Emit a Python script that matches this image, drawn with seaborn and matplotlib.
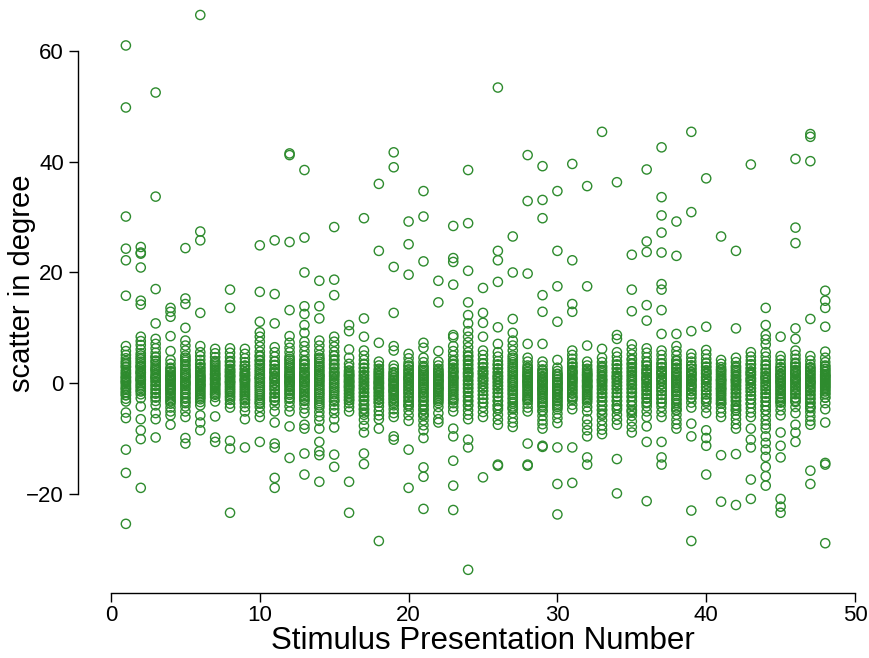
import matplotlib
matplotlib.use("Agg")
import matplotlib.pyplot as plt
import seaborn as sns
import pandas as pd

# Stimulus presentation numbers (x categories)
stimulus_numbers = list(range(1, 49))

# Values far from the dense central band, read per stimulus
outlier_values = [
    [61.0, 49.8, 30.1, 24.3, 22.2, 15.8, -5.3, -6.3, -12.0, -16.2, -25.4],
    [24.6, 23.6, 23.4, 20.9, 14.9, 14.2, -4.2, -6.5, -8.5, -10.1, -18.9],
    [52.5, 33.7, 17.0, 10.8, -5.4, -6.5, -9.8],
    [13.6, 12.9, 12.0, 8.5, 5.8, -7.5],
    [24.4, 15.3, 14.3, 10.0, -9.9, -10.9],
    [66.5, 27.4, 25.8, 12.7, 6.7, -5.8, -7.1, -8.5],
    [-6.0, -9.8, -10.6],
    [16.9, 13.6, -10.4, -11.8, -23.4],
    [6.2, -6.5, -11.6],
    [24.9, 16.5, 11.1, 9.2, -10.6],
    [25.8, 16.1, 10.8, -7.1, -10.9, -11.6, -17.1, -18.9],
    [41.5, 41.2, 25.5, 13.2, 8.5, -7.8, -13.5],
    [38.5, 26.3, 20.0, 13.9, 12.5, 10.5, 9.1, 7.5, -7.5, -8.2, -12.7, -16.5],
    [18.5, 13.9, 11.7, -8.2, -10.6, -12.3, -13.0, -17.8],
    [28.2, 18.7, 15.9, -6.5, -8.0, -12.9, -15.1],
    [10.5, 9.4, 6.1, 4.6, -17.8, -23.4],
    [29.8, 11.7, 8.4, -12.7, -14.6],
    [36.0, 23.9, 7.3, -6.5, -8.2, -28.5],
    [41.7, 39.0, 21.0, 12.7, 6.7, 5.9, -9.6, -10.2],
    [29.2, 25.1, 19.6, -12.0, -18.9],
    [34.7, 30.1, 22.0, 7.3, 6.4, -15.2, -16.9, -22.7],
    [18.5, 14.6, 5.8, -6.5, -7.1],
    [28.4, 22.6, 21.9, 17.8, 8.7, 8.3, -8.2, -9.6, -14.0, -18.5, -22.9],
    [38.5, 28.9, 20.3, 14.6, 12.3, 10.8, 9.4, -10.2, -11.6, -33.7],
    [17.2, 12.7, 10.9, 8.4, -17.0],
    [53.4, 23.9, 22.2, 18.3, 10.1, 7.1, -14.7, -14.9],
    [26.5, 20.0, 11.6, 9.1],
    [41.2, 32.9, 19.8, 7.1, -10.9, -14.7, -14.9],
    [39.2, 33.1, 29.8, 15.9, 12.9, 7.1, -11.3, -11.5],
    [34.7, 23.9, 17.5, 11.1, 4.2, -11.6, -18.2, -23.7],
    [39.6, 22.2, 14.3, 12.9, -11.6, -18.0],
    [35.6, 17.5, 6.8, -6.5, -7.5, -8.5, -9.6, -13.4, -14.7],
    [45.4, 6.2],
    [36.3, 8.7, 8.0, -13.7, -19.9],
    [23.2, 16.9, 13.0],
    [38.6, 25.6, 23.7, 14.1, 11.3, -7.8, -10.6, -21.3],
    [42.6, 33.6, 30.3, 27.2, 23.6, 17.9, 16.9, 13.2, 8.9, -10.6, -13.4, -14.7],
    [29.2, 23.0, 8.9],
    [45.4, 30.9, 9.4, -7.3, -9.6, -23.0, -28.5],
    [37.0, 10.2, -8.5, -9.9, -11.3, -16.5],
    [26.5, -13.0, -21.4],
    [23.9, 9.9, -12.8, -22.0],
    [39.5, -8.2, -10.2, -11.6, -17.4, -20.9],
    [13.6, 10.5, 8.7, 7.9, 7.0, -9.6, -10.8, -12.0, -13.3, -15.1, -16.8, -18.5],
    [8.4, -8.9, -11.3, -13.4, -20.9, -22.3, -23.4],
    [40.5, 28.1, 25.3, 9.9, 8.0, -7.5, -8.9, -10.6],
    [45.0, 44.5, 40.1, 11.6, -15.8, -18.2],
    [16.7, 14.9, 13.6, 10.2, -7.1, -14.4, -14.7, -28.9],
]

# Values in the central band, read per stimulus
core_values = [
    [6.7, 5.8, 5.1, 4.5, 3.7, 3.0, 2.4, 1.8, 1.2, 0.6, 0.1, -0.5, -1.0, -1.6, -2.2, -2.8, -3.3],
    [8.4, 7.6, 6.9, 6.1, 5.4, 4.6, 3.9, 3.2, 2.5, 1.9, 1.2, 0.6, 0.0, -0.6, -1.3, -2.0, -2.7],
    [8.0, 7.1, 6.3, 5.5, 4.7, 3.9, 3.1, 2.4, 1.7, 1.0, 0.4, -0.3, -1.0, -1.7, -2.5, -3.2, -4.0],
    [4.2, 3.5, 2.8, 2.2, 1.6, 1.0, 0.5, -0.1, -0.6, -1.2, -1.8, -2.4, -3.1, -3.7, -4.4, -5.1, -5.8],
    [7.7, 6.8, 5.9, 5.0, 4.2, 3.4, 2.6, 1.9, 1.2, 0.5, -0.2, -0.9, -1.7, -2.5, -3.3, -4.2, -5.1, -6.1],
    [5.6, 4.9, 4.2, 3.5, 2.9, 2.3, 1.7, 1.1, 0.6, 0.0, -0.5, -1.1, -1.7, -2.3, -2.9, -3.4, -4.0],
    [6.2, 5.4, 4.7, 4.0, 3.4, 2.8, 2.2, 1.6, 1.0, 0.5, -0.1, -0.7, -1.3, -1.9, -2.5, -3.3],
    [6.3, 5.5, 4.7, 4.0, 3.3, 2.6, 2.0, 1.4, 0.8, 0.2, -0.4, -1.0, -1.6, -2.3, -3.0, -3.7, -4.4],
    [5.3, 4.5, 3.8, 3.1, 2.5, 1.9, 1.3, 0.7, 0.2, -0.4, -1.0, -1.6, -2.2, -2.9, -3.6, -4.3, -5.1],
    [8.4, 7.5, 6.6, 5.7, 4.8, 4.0, 3.2, 2.4, 1.7, 1.0, 0.3, -0.4, -1.1, -1.9, -2.7, -3.5, -4.3, -5.2, -6.1],
    [6.5, 5.6, 4.8, 4.0, 3.3, 2.6, 1.9, 1.3, 0.7, 0.1, -0.5, -1.1, -1.8, -2.5, -3.2, -4.0, -5.1],
    [7.3, 6.4, 5.6, 4.8, 4.1, 3.4, 2.7, 2.0, 1.4, 0.8, 0.2, -0.4, -1.1, -1.8, -2.6, -3.4, -4.2, -5.1],
    [6.7, 5.8, 5.0, 4.2, 3.5, 2.8, 2.1, 1.5, 0.9, 0.3, -0.3, -0.9, -1.6, -2.3, -3.0, -3.8, -4.6, -5.4],
    [7.7, 6.8, 5.9, 5.1, 4.3, 3.5, 2.8, 2.1, 1.4, 0.7, 0.1, -0.6, -1.3, -2.0, -2.8, -3.6, -4.4, -5.2, -6.0, -6.8],
    [8.4, 7.5, 6.6, 5.7, 4.9, 4.1, 3.3, 2.6, 1.9, 1.2, 0.5, -0.2, -0.9, -1.6, -2.4, -3.2, -4.0, -4.7, -5.4],
    [3.5, 2.9, 2.3, 1.8, 1.3, 0.8, 0.3, -0.2, -0.7, -1.2, -1.8, -2.4, -3.0, -3.6, -4.3, -5.1],
    [5.9, 5.0, 4.2, 3.4, 2.7, 2.0, 1.3, 0.7, 0.1, -0.5, -1.1, -1.8, -2.5, -3.2, -4.0, -4.8, -5.7, -6.6, -7.7, -8.9],
    [3.9, 3.2, 2.6, 2.0, 1.5, 1.0, 0.5, 0.0, -0.5, -1.0, -1.6, -2.2, -2.8, -3.5, -4.2, -5.0, -5.8],
    [3.2, 2.6, 2.0, 1.5, 1.0, 0.5, 0.0, -0.5, -1.0, -1.5, -2.1, -2.7, -3.3, -4.0, -4.7, -5.4, -6.1],
    [5.3, 4.5, 3.7, 3.0, 2.3, 1.7, 1.1, 0.5, -0.1, -0.7, -1.3, -1.9, -2.6, -3.3, -4.1, -4.9, -5.8, -6.8],
    [4.6, 3.8, 3.1, 2.4, 1.8, 1.2, 0.6, 0.0, -0.6, -1.2, -1.9, -2.6, -3.3, -4.1, -4.9, -5.8, -6.7, -7.6, -8.5, -9.9],
    [3.9, 3.2, 2.6, 2.0, 1.4, 0.9, 0.4, -0.1, -0.6, -1.1, -1.7, -2.3, -2.9, -3.6, -4.3, -5.4],
    [6.7, 5.8, 5.0, 4.2, 3.5, 2.8, 2.1, 1.5, 0.9, 0.3, -0.3, -0.9, -1.5, -2.2, -2.9, -3.6, -4.3, -5.1],
    [8.4, 7.4, 6.5, 5.6, 4.8, 4.0, 3.2, 2.5, 1.8, 1.1, 0.4, -0.3, -1.0, -1.7, -2.5, -3.3, -4.1, -4.9, -5.7, -6.5],
    [5.9, 5.1, 4.3, 3.6, 2.9, 2.2, 1.6, 1.0, 0.4, -0.2, -0.8, -1.4, -2.1, -2.8, -3.5, -4.3, -5.2, -6.1],
    [5.6, 4.8, 4.0, 3.3, 2.6, 1.9, 1.3, 0.7, 0.1, -0.5, -1.1, -1.8, -2.5, -3.2, -4.0, -4.8, -5.7, -6.6, -7.5],
    [7.7, 6.8, 5.9, 5.0, 4.2, 3.4, 2.7, 2.0, 1.3, 0.6, 0.0, -0.7, -1.4, -2.1, -2.9, -3.7, -4.5, -5.4, -6.3, -7.1, -7.9],
    [4.6, 3.9, 3.2, 2.6, 2.0, 1.4, 0.9, 0.4, -0.1, -0.6, -1.2, -1.8, -2.4, -3.0, -3.7, -4.4, -5.1],
    [3.9, 3.2, 2.5, 1.9, 1.3, 0.7, 0.2, -0.4, -1.0, -1.6, -2.2, -2.9, -3.6, -4.3, -5.1, -5.9, -6.7, -7.4, -8.2],
    [2.8, 2.2, 1.6, 1.1, 0.6, 0.1, -0.4, -0.9, -1.5, -2.1, -2.7, -3.3, -4.0, -4.7, -5.5, -6.3, -7.2],
    [5.9, 5.1, 4.4, 3.7, 3.0, 2.4, 1.8, 1.2, 0.6, 0.1, -0.5, -1.1, -1.7, -2.4, -3.1, -3.9, -4.7],
    [3.9, 3.2, 2.6, 2.0, 1.5, 1.0, 0.5, 0.0, -0.5, -1.0, -1.6, -2.2, -2.8, -3.5, -4.3, -5.1],
    [4.6, 3.8, 3.1, 2.4, 1.8, 1.2, 0.6, 0.0, -0.6, -1.2, -1.9, -2.6, -3.3, -4.1, -4.9, -5.8, -6.7, -7.6, -8.4, -9.2],
    [5.6, 4.8, 4.0, 3.3, 2.6, 1.9, 1.3, 0.7, 0.1, -0.5, -1.1, -1.8, -2.5, -3.2, -4.0, -4.8, -5.7, -6.6, -7.5],
    [7.0, 6.1, 5.2, 4.4, 3.6, 2.9, 2.2, 1.5, 0.8, 0.2, -0.4, -1.1, -1.8, -2.5, -3.3, -4.1, -5.0, -5.9, -6.9, -7.9, -8.9],
    [6.3, 5.5, 4.7, 3.9, 3.2, 2.5, 1.8, 1.2, 0.6, 0.0, -0.6, -1.2, -1.9, -2.6, -3.4, -4.2, -5.1, -6.1],
    [5.9, 5.1, 4.3, 3.6, 2.9, 2.2, 1.6, 1.0, 0.4, -0.2, -0.8, -1.4, -2.1, -2.8, -3.5, -4.3, -5.2, -6.1],
    [6.7, 5.8, 5.0, 4.2, 3.5, 2.8, 2.1, 1.5, 0.9, 0.3, -0.3, -0.9, -1.6, -2.3, -3.1, -3.9, -4.8, -5.7, -6.6, -7.4, -8.2],
    [5.3, 4.6, 3.9, 3.2, 2.6, 2.0, 1.4, 0.8, 0.3, -0.2, -0.8, -1.4, -2.0, -2.7, -3.5, -4.4],
    [6.0, 5.2, 4.4, 3.7, 3.0, 2.3, 1.7, 1.1, 0.5, -0.1, -0.7, -1.3, -2.0, -2.7, -3.5, -4.4, -5.4],
    [4.2, 3.5, 2.9, 2.3, 1.7, 1.1, 0.6, 0.0, -0.5, -1.1, -1.7, -2.3, -3.0, -3.7, -4.5, -5.3, -6.1],
    [4.6, 3.8, 3.1, 2.4, 1.8, 1.2, 0.6, 0.0, -0.6, -1.2, -1.9, -2.6, -3.3, -4.1, -4.9, -5.7, -6.5, -7.4, -8.2],
    [5.6, 4.8, 4.1, 3.4, 2.7, 2.1, 1.5, 0.9, 0.3, -0.3, -0.9, -1.5, -2.2, -2.9, -3.7, -4.5, -5.3, -6.1],
    [5.6, 4.8, 4.0, 3.2, 2.5, 1.8, 1.2, 0.6, 0.0, -0.6, -1.2, -1.9, -2.6, -3.3, -4.1, -4.9, -5.8, -6.7, -7.5, -8.2],
    [4.9, 4.2, 3.5, 2.8, 2.2, 1.6, 1.0, 0.4, -0.2, -0.8, -1.4, -2.0, -2.7, -3.4, -4.1, -4.9, -5.8],
    [5.9, 5.1, 4.4, 3.7, 3.0, 2.4, 1.8, 1.2, 0.6, 0.0, -0.6, -1.2, -1.9, -2.6, -3.4, -4.3, -5.4],
    [4.9, 4.1, 3.4, 2.7, 2.1, 1.5, 0.9, 0.3, -0.3, -0.9, -1.5, -2.2, -2.9, -3.6, -4.4, -5.2, -6.0, -6.8, -7.5],
    [5.7, 4.6, 3.8, 3.2, 2.6, 2.1, 1.6, 1.2, 0.8, 0.4, 0.0, -0.4, -0.8, -1.3, -1.9, -2.6, -3.6, -4.7],
]

# Extra values packed in the densest middle part of each column
dense_values = [
    [4.0, 3.4, 2.9, 2.1, 1.6, 0.9, 0.4, -0.2, -0.8, -1.2, -1.7, -2.1, 0.2, 1.1],
    [5.0, 4.3, 3.6, 2.9, 2.2, 1.6, 1.0, 0.4, -0.3, -0.9, -1.5, 3.0, 1.9, 0.7],
    [4.8, 4.1, 3.5, 2.8, 2.1, 1.4, 0.8, 0.2, -0.5, -1.2, -1.9, -2.6, 1.1, 2.5],
    [2.6, 2.0, 1.4, 0.8, 0.2, -0.3, -0.8, -1.4, -2.0, -2.7, -3.3, -1.0, 0.6, 1.2],
    [4.6, 3.9, 3.1, 2.3, 1.6, 0.9, 0.2, -0.5, -1.2, -2.0, -2.8, -3.6, 1.3, 0.0],
    [3.4, 2.7, 2.1, 1.5, 0.9, 0.3, -0.2, -0.8, -1.4, -2.0, -2.6, 0.5, 1.2, -0.4],
    [3.7, 3.1, 2.5, 1.9, 1.3, 0.7, 0.2, -0.4, -1.0, -1.6, -2.1, 0.9, 1.6, -0.2],
    [3.8, 3.1, 2.4, 1.7, 1.1, 0.5, -0.1, -0.7, -1.3, -1.9, -2.6, 0.2, 1.3, 2.1],
    [3.2, 2.6, 2.0, 1.4, 0.9, 0.4, -0.1, -0.7, -1.3, -1.9, -2.5, -3.1, 0.6, 1.6],
    [5.0, 4.2, 3.5, 2.8, 2.1, 1.4, 0.7, 0.0, -0.7, -1.5, -2.3, -3.1, -3.7, 1.0],
    [3.9, 3.2, 2.5, 1.8, 1.2, 0.6, 0.0, -0.6, -1.2, -1.9, -2.6, -3.1, 0.9, 2.1],
    [4.4, 3.7, 3.0, 2.3, 1.7, 1.1, 0.5, -0.1, -0.7, -1.4, -2.1, -2.8, 1.3, 0.2],
    [4.0, 3.3, 2.6, 1.9, 1.3, 0.7, 0.1, -0.5, -1.2, -1.9, -2.6, -3.2, 0.4, 1.6],
    [4.6, 3.9, 3.1, 2.4, 1.7, 1.0, 0.4, -0.3, -1.0, -1.7, -2.4, -3.2, -4.0, 1.3],
    [5.0, 4.3, 3.5, 2.8, 2.1, 1.4, 0.8, 0.1, -0.6, -1.3, -2.0, -2.8, -3.3, 1.7],
    [2.1, 1.6, 1.1, 0.6, 0.1, -0.4, -0.9, -1.4, -2.0, -2.6, -3.1, 0.3, -0.6, 1.4],
    [3.5, 2.8, 2.1, 1.5, 0.9, 0.3, -0.3, -0.9, -1.6, -2.3, -3.0, -3.8, -4.6, -5.3],
    [2.3, 1.8, 1.3, 0.8, 0.3, -0.2, -0.7, -1.2, -1.8, -2.4, -3.0, -3.5, 0.1, -0.9],
    [1.9, 1.4, 0.9, 0.4, -0.1, -0.6, -1.1, -1.7, -2.3, -2.9, -3.6, 0.6, -1.4, -0.3],
    [3.2, 2.5, 1.9, 1.3, 0.7, 0.1, -0.5, -1.1, -1.7, -2.4, -3.1, -3.8, -4.1, 0.9],
    [2.8, 2.1, 1.5, 0.9, 0.3, -0.3, -0.9, -1.6, -2.3, -3.1, -3.9, -4.7, -5.5, -5.9],
    [2.3, 1.8, 1.2, 0.7, 0.2, -0.3, -0.8, -1.4, -2.0, -2.6, -3.2, 0.5, -1.0, 1.5],
    [4.0, 3.3, 2.6, 1.9, 1.2, 0.6, 0.0, -0.6, -1.2, -1.9, -2.6, -3.1, 1.0, 2.2],
    [5.0, 4.2, 3.5, 2.7, 2.0, 1.3, 0.6, -0.1, -0.8, -1.5, -2.3, -3.1, -3.9, 1.6],
    [3.5, 2.8, 2.2, 1.6, 1.0, 0.4, -0.2, -0.8, -1.4, -2.1, -2.8, -3.6, 0.7, 1.9],
    [3.4, 2.7, 2.0, 1.4, 0.8, 0.2, -0.4, -1.0, -1.7, -2.4, -3.2, -4.0, -4.5, 1.1],
    [4.6, 3.8, 3.0, 2.3, 1.6, 0.9, 0.3, -0.4, -1.1, -1.8, -2.6, -3.4, -4.2, -4.7],
    [2.8, 2.2, 1.7, 1.1, 0.6, 0.1, -0.4, -0.9, -1.5, -2.1, -2.7, -3.1, 0.3, 1.4],
    [2.3, 1.7, 1.1, 0.5, -0.1, -0.7, -1.3, -1.9, -2.6, -3.3, -4.0, -4.9, 0.3, -1.0],
    [1.7, 1.2, 0.7, 0.2, -0.3, -0.8, -1.3, -1.9, -2.5, -3.1, -3.7, -4.3, 0.0, -1.1],
    [3.5, 2.9, 2.2, 1.6, 1.0, 0.4, -0.1, -0.7, -1.3, -1.9, -2.5, -2.8, 0.8, 2.0],
    [2.3, 1.8, 1.2, 0.7, 0.2, -0.3, -0.8, -1.3, -1.9, -2.5, -3.1, 0.4, -0.6, 1.5],
    [2.8, 2.1, 1.4, 0.8, 0.2, -0.4, -1.0, -1.7, -2.4, -3.2, -4.0, -4.8, -5.5, 0.5],
    [3.4, 2.7, 2.0, 1.4, 0.8, 0.2, -0.4, -1.0, -1.7, -2.4, -3.2, -4.0, -4.5, 1.1],
    [4.2, 3.4, 2.6, 1.9, 1.2, 0.5, -0.2, -0.9, -1.6, -2.4, -3.2, -4.0, -4.8, -5.3],
    [3.8, 3.1, 2.4, 1.7, 1.1, 0.5, -0.1, -0.7, -1.4, -2.1, -2.8, -3.6, 0.8, 2.0],
    [3.5, 2.8, 2.2, 1.6, 1.0, 0.4, -0.2, -0.8, -1.4, -2.1, -2.8, -3.6, 0.7, 1.9],
    [4.0, 3.3, 2.6, 1.9, 1.2, 0.6, 0.0, -0.6, -1.3, -2.0, -2.8, -3.6, -4.4, -4.9],
    [3.2, 2.6, 2.0, 1.4, 0.9, 0.4, -0.2, -0.8, -1.4, -2.0, -2.6, 0.6, 1.7, -0.5],
    [3.6, 2.9, 2.3, 1.7, 1.1, 0.5, -0.1, -0.7, -1.3, -2.0, -2.7, -3.2, 0.8, 1.9],
    [2.5, 2.0, 1.4, 0.8, 0.3, -0.2, -0.8, -1.4, -2.0, -2.7, -3.3, -3.7, 0.5, -1.0],
    [2.8, 2.1, 1.4, 0.8, 0.2, -0.4, -1.0, -1.7, -2.4, -3.1, -3.9, -4.5, -4.9, 0.5],
    [3.4, 2.7, 2.1, 1.5, 0.9, 0.3, -0.3, -0.9, -1.5, -2.2, -2.9, -3.7, 0.6, 1.8],
    [3.4, 2.6, 1.9, 1.3, 0.7, 0.1, -0.5, -1.1, -1.8, -2.5, -3.3, -4.1, -4.9, 1.0],
    [2.9, 2.3, 1.7, 1.1, 0.6, 0.0, -0.6, -1.2, -1.8, -2.4, -3.0, -3.5, 0.3, 1.4],
    [3.5, 2.9, 2.2, 1.6, 1.0, 0.4, -0.2, -0.8, -1.4, -2.0, -2.7, -3.2, 0.7, 1.9],
    [2.9, 2.3, 1.7, 1.1, 0.5, -0.1, -0.7, -1.3, -2.0, -2.7, -3.5, -4.2, -4.5, 0.2],
    [3.0, 2.5, 2.0, 1.5, 1.0, 0.6, 0.2, -0.2, -0.6, -1.0, -1.5, -2.0, -2.6, 1.3],
]

x_ticks = [0, 10, 20, 30, 40, 50]
y_ticks = [-20, 0, 20, 40, 60]
y_tick_labels = ["\u221220", "0", "20", "40", "60"]
x_label = "Stimulus Presentation Number"
y_label = "scatter in degree"

rows = []
for stim, outs, core, dense in zip(stimulus_numbers, outlier_values,
                                   core_values, dense_values):
    for v in core + dense + outs:
        rows.append((stim, v))
df = pd.DataFrame(rows, columns=["stimulus", "scatter"])

sns.set_theme(style="ticks")
plt.rcParams["font.family"] = ["Liberation Sans", "DejaVu Sans"]

W, H = 870, 658
fig = plt.figure(figsize=(W / 100, H / 100), dpi=100)
left_px, right_px, top_px, bottom_px = 111, 855, 6.7, 577
ax = fig.add_axes([left_px / W, (H - bottom_px) / H,
                   (right_px - left_px) / W, (bottom_px - top_px) / H])

sns.scatterplot(data=df, x="stimulus", y="scatter", ax=ax,
                marker="o", s=44, facecolor="none",
                edgecolor="#2e8b2e", linewidth=1.0, legend=False)

ax.set_xlim(0, 50)
ax.set_ylim(-35, 68)
ax.set_xticks(x_ticks)
ax.set_yticks(y_ticks)
ax.set_yticklabels(y_tick_labels)

ax.spines["top"].set_visible(False)
ax.spines["right"].set_visible(False)
ax.spines["left"].set_position(("outward", 24))
ax.spines["bottom"].set_position(("outward", 11.5))
ax.spines["left"].set_bounds(-20, 60)
ax.spines["bottom"].set_bounds(0, 50)
for sp in ("left", "bottom"):
    ax.spines[sp].set_color("black")
    ax.spines[sp].set_linewidth(1.0)

ax.tick_params(axis="both", direction="out", length=6.5, width=1.0,
               color="black", labelsize=16, labelcolor="black")
ax.tick_params(axis="x", pad=2)

ax.set_xlabel(x_label, fontsize=22.5, color="black", labelpad=0)
ax.set_ylabel(y_label, fontsize=21, color="black")
ax.yaxis.set_label_coords((36 - left_px) / (right_px - left_px),
                          (bottom_px - 283) / (bottom_px - top_px))

fig.savefig("out.png", dpi=100, facecolor="white")
